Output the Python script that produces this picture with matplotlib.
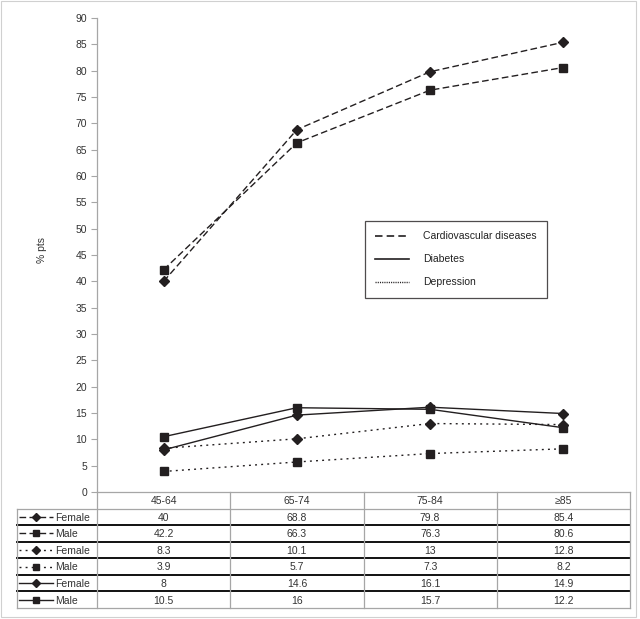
import matplotlib
matplotlib.use("Agg")
import matplotlib.pyplot as plt
from matplotlib.lines import Line2D
from matplotlib.patches import Rectangle

plt.rcParams['font.family'] = ['Liberation Sans', 'DejaVu Sans']

categories = ["45-64", "65-74", "75-84", "\u226585"]
cvd_female = [40, 68.8, 79.8, 85.4]
cvd_male = [42.2, 66.3, 76.3, 80.6]
dep_female = [8.3, 10.1, 13, 12.8]
dep_male = [3.9, 5.7, 7.3, 8.2]
dia_female = [8, 14.6, 16.1, 14.9]
dia_male = [10.5, 16, 15.7, 12.2]
row_labels = ["Female", "Male", "Female", "Male", "Female", "Male"]
y_ticks = list(range(0, 91, 5))
legend_labels = ["Cardiovascular diseases", "Diabetes", "Depression"]

W, H = 640, 619
fig = plt.figure(figsize=(W / 100, H / 100), dpi=100)

def px_rect(l, t, r, b):
    return [l / W, 1 - b / H, (r - l) / W, (b - t) / H]

ink = "#231f20"
gray = "#a6a6a6"
dash = (0, (4.8, 2.4))
dot = (0, (1.4, 3.0))

series = [
    (cvd_female, dash, "D", 4.6),
    (cvd_male, dash, "s", 5.3),
    (dep_female, dot, "D", 4.6),
    (dep_male, dot, "s", 5.3),
    (dia_female, "-", "D", 4.6),
    (dia_male, "-", "s", 5.3),
]

ax = fig.add_axes(px_rect(97, 18, 630, 492))
x = list(range(len(categories)))
for vals, ls, mk, ms in series:
    ax.plot(x, vals, linestyle=ls, color=ink, lw=1.0, marker=mk, markersize=ms,
            markerfacecolor=ink, markeredgecolor=ink, clip_on=False)
ax.set_xlim(-0.5, len(categories) - 0.5)
ax.set_ylim(0, 90)
ax.set_yticks(y_ticks)
ax.set_yticklabels([str(t) for t in y_ticks], fontsize=7.5, color="#333333")
ax.tick_params(axis='y', length=4, width=0.8, color=gray, pad=3)
ax.set_xticks([])
for s in ["top", "right", "bottom"]:
    ax.spines[s].set_visible(False)
ax.spines["left"].set_color(gray)
ax.spines["left"].set_linewidth(0.9)
fig.text(42 / W, 1 - 250 / H, "% pts", rotation=90, ha="center", va="center",
         fontsize=7.5, color="#333333")

handles = [Line2D([], [], color=ink, lw=1.2, linestyle=(0, (4.5, 2.5))),
           Line2D([], [], color=ink, lw=1.2, linestyle="-"),
           Line2D([], [], color=ink, lw=1.0, linestyle=(0, (0.8, 0.8)))]
leg = fig.legend(handles, legend_labels, loc="upper left",
                 bbox_to_anchor=(365 / W, 1 - 221 / H), borderaxespad=0,
                 fontsize=7.5, frameon=True, fancybox=False, handlelength=3.2,
                 handletextpad=1.4, labelspacing=1.25, borderpad=1.0)
leg.get_frame().set_edgecolor(ink)
leg.get_frame().set_linewidth(0.9)
for t in leg.get_texts():
    t.set_color("#222222")

# Table
tab = fig.add_axes(px_rect(17, 492, 630, 608))
left_x = -0.5 - 80 / 133.25
tab.set_xlim(left_x, len(categories) - 0.5)
tab.set_ylim(7, 0)
tab.axis("off")
n = len(categories)
tab.plot([-0.5, n - 0.5], [0, 0], color=gray, lw=0.9, clip_on=False)
tab.plot([left_x, n - 0.5], [1, 1], color=gray, lw=0.9, clip_on=False)
for r in range(2, 7):
    tab.plot([left_x, n - 0.5], [r, r], color="#111111", lw=1.4, clip_on=False)
tab.plot([left_x, n - 0.5], [7, 7], color=gray, lw=0.9, clip_on=False)
tab.plot([left_x, left_x], [1, 7], color=gray, lw=0.9, clip_on=False)
for c in range(n + 1):
    tab.plot([c - 0.5, c - 0.5], [0, 7], color=gray, lw=0.9, clip_on=False)
for i, cat in enumerate(categories):
    tab.text(i, 0.55, cat, ha="center", va="center", fontsize=7.5, color="#333333")
for r, (vals, ls, mk, ms) in enumerate(series):
    yy = r + 1.55
    for i, v in enumerate(vals):
        tab.text(i, yy, f"{v:g}", ha="center", va="center", fontsize=7.5, color="#333333")
    k0 = left_x + 2 / 133.25
    k1 = left_x + 36 / 133.25
    tab.plot([k0, (k0 + k1) / 2, k1], [yy - 0.05] * 3, linestyle=ls, color=ink, lw=1.0,
             marker=mk, markersize=ms * 0.85, markevery=[1], clip_on=False)
    tab.text(left_x + 38 / 133.25, yy, row_labels[r], ha="left", va="center",
             fontsize=7.5, color="#333333")

fig.add_artist(Rectangle((1 / W, 1 - 617 / H), 635 / W, 616 / H, transform=fig.transFigure,
                         fill=False, edgecolor="#d0d0d0", lw=0.8))

fig.savefig("out.png", dpi=100)
